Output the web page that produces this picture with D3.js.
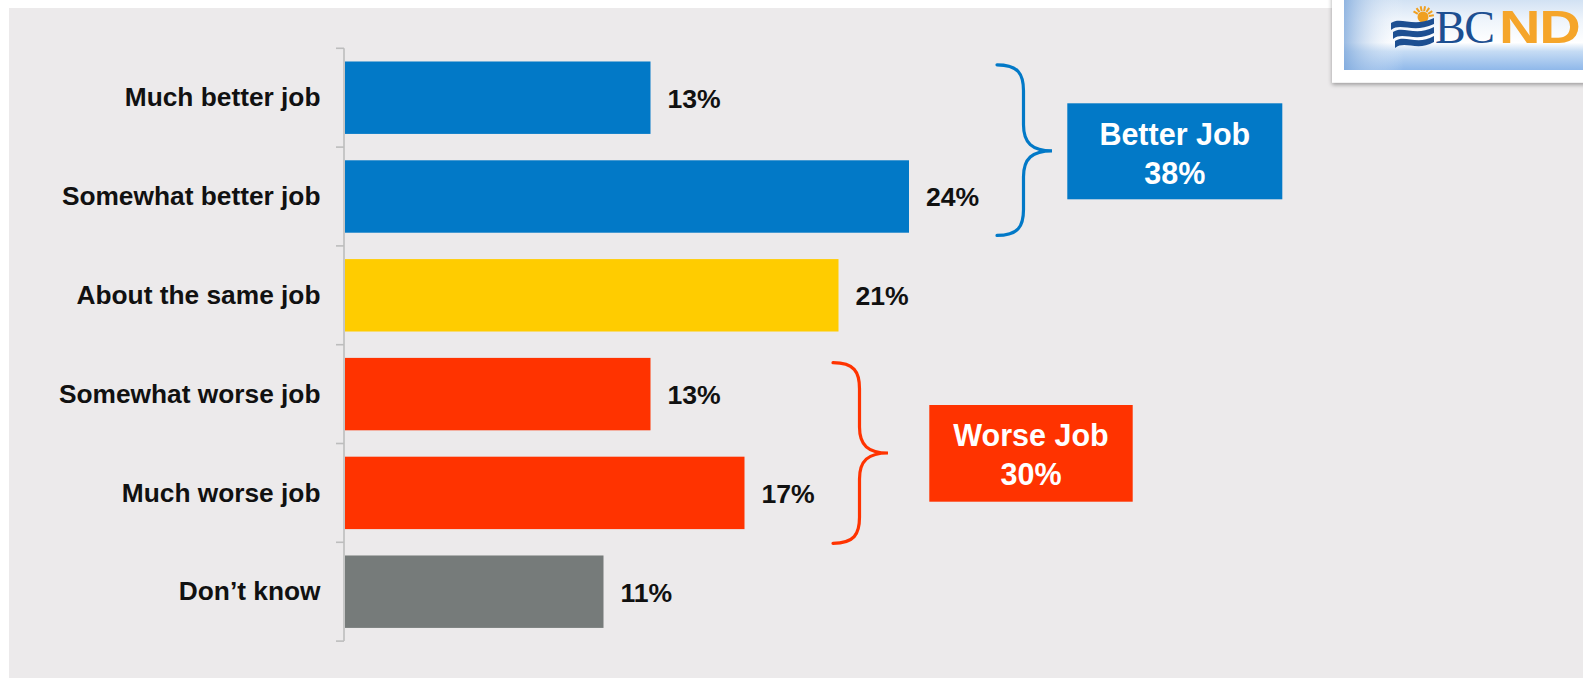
<!DOCTYPE html>
<html>
<head>
<meta charset="utf-8">
<script src="https://cdn.jsdelivr.net/npm/d3@7/dist/d3.min.js"></script>
<style>
  html, body { margin: 0; padding: 0; background: #ffffff; }
  svg { display: block; font-family: "Liberation Sans", Arial, sans-serif; }
</style>
</head>
<body>
<svg id="chart" width="1583" height="678"></svg>
<script>
// Survey responses (percent of respondents)
const categories = [
  "Much better job",
  "Somewhat better job",
  "About the same job",
  "Somewhat worse job",
  "Much worse job",
  "Don\u2019t know"
];
const values = [13, 24, 21, 13, 17, 11];
const barColors = ["#0279c7", "#0279c7", "#ffcc00", "#ff3300", "#ff3300", "#767b7a"];

// Net groupings shown beside the bars
const groupLabels = ["Better Job", "Worse Job"];
const groupValues = [38, 30];
const groupMembers = [[0, 1], [3, 4]];
const groupColors = ["#0279c7", "#ff3300"];

const W = 1583, H = 678;
const svg = d3.select("#chart");

// Slide panel
svg.append("rect").attr("x", 9).attr("y", 8).attr("width", W - 9).attr("height", H - 8)
  .attr("fill", "#eceaeb");

// Scales
const y = d3.scaleBand()
  .domain(categories)
  .range([48.3, 641.1])
  .paddingInner(0.267)
  .paddingOuter(0.1335);

const x = d3.scaleLinear().domain([0, 30]).range([345, 345 + 705]);

const step = y.step();
const bw = y.bandwidth();

// Category axis line and tick marks at band boundaries
const axisG = svg.append("g").attr("stroke", "#bdbdbd").attr("stroke-width", 1.6);
axisG.append("line").attr("x1", 344).attr("x2", 344).attr("y1", 48.3).attr("y2", 641.1);
const boundaries = categories.map(c => y(c) - (step - bw) / 2)
  .concat([y(categories[categories.length - 1]) + bw + (step - bw) / 2]);
axisG.selectAll("line.tick").data(boundaries).join("line")
  .attr("class", "tick")
  .attr("x1", 336).attr("x2", 344)
  .attr("y1", d => d).attr("y2", d => d);

// Bars
svg.append("g").selectAll("rect").data(values).join("rect")
  .attr("x", x(0))
  .attr("y", (d, i) => y(categories[i]))
  .attr("width", d => x(d) - x(0))
  .attr("height", bw)
  .attr("fill", (d, i) => barColors[i]);

// Category labels
svg.append("g").selectAll("text").data(categories).join("text")
  .attr("x", 320.5)
  .attr("y", d => y(d) + bw / 2 + 8.6)
  .attr("text-anchor", "end")
  .attr("font-size", 26.3)
  .attr("font-weight", "bold")
  .attr("fill", "#111")
  .text(d => d);

// Value labels
svg.append("g").selectAll("text").data(values).join("text")
  .attr("x", d => x(d) + 17)
  .attr("y", (d, i) => y(categories[i]) + bw / 2 + 9.8)
  .attr("font-size", 26.6)
  .attr("font-weight", "bold")
  .attr("fill", "#111")
  .text(d => d + "%");

// Curly brace path
function bracePath(x0, xm, xt, y0, y1, ym) {
  const r = 26;
  return `M${x0},${y0}` +
    `C${x0 + (xm - x0) * 0.8},${y0} ${xm},${y0 + r * 0.35} ${xm},${y0 + r}` +
    `L${xm},${ym - r}` +
    `C${xm},${ym - r * 0.3} ${xm + (xt - xm) * 0.3},${ym} ${xt},${ym}` +
    `C${xm + (xt - xm) * 0.3},${ym} ${xm},${ym + r * 0.3} ${xm},${ym + r}` +
    `L${xm},${y1 - r}` +
    `C${xm},${y1 - r * 0.35} ${x0 + (xm - x0) * 0.8},${y1} ${x0},${y1}`;
}

// Brace geometry per group (top/bottom nudges from the band edges)
const braceNudge = [[3.3, 2.7], [4.8, 14.2]];
const braceX0 = [997, 833];
const boxes = [
  { x: 1067.3, y: 103.3, w: 215, h: 96 },
  { x: 929.3, y: 405, w: 203.4, h: 96.7 }
];

groupLabels.forEach((lab, g) => {
  const m = groupMembers[g];
  const top = y(categories[m[0]]) + braceNudge[g][0];
  const bot = y(categories[m[m.length - 1]]) + bw + braceNudge[g][1];
  const x0 = braceX0[g];
  const xm = x0 + 26.5;
  const xt = xm + 28.5;
  const ym = (top + bot) / 2 + (g === 0 ? 0.7 : 0);
  svg.append("path")
    .attr("d", bracePath(x0, xm, xt, top, bot, ym))
    .attr("fill", "none")
    .attr("stroke", groupColors[g])
    .attr("stroke-width", 3.2)
    .attr("stroke-linecap", "round");

  const b = boxes[g];
  svg.append("rect").attr("x", b.x).attr("y", b.y).attr("width", b.w).attr("height", b.h)
    .attr("fill", groupColors[g]);
  const cx = b.x + b.w / 2;
  svg.append("text").attr("x", cx).attr("y", b.y + 41.3)
    .attr("text-anchor", "middle").attr("font-size", 30.5).attr("font-weight", "bold")
    .attr("fill", "#fff").text(lab);
  svg.append("text").attr("x", cx).attr("y", b.y + 80.3)
    .attr("text-anchor", "middle").attr("font-size", 30.5).attr("font-weight", "bold")
    .attr("fill", "#fff").text(groupValues[g] + "%");
});

// Party logo in the top-right corner
const defs = svg.append("defs");
const shadow = defs.append("filter").attr("id", "logoShadow")
  .attr("x", "-10%").attr("y", "-10%").attr("width", "130%").attr("height", "140%");
shadow.append("feDropShadow").attr("dx", 0).attr("dy", 2).attr("stdDeviation", 2)
  .attr("flood-color", "#000").attr("flood-opacity", 0.35);

const bgGrad = defs.append("linearGradient").attr("id", "logoBg")
  .attr("x1", 0).attr("y1", 0).attr("x2", 0).attr("y2", 1);
[["0%", "#cfe0f3"], ["30%", "#eef4fb"], ["62%", "#ffffff"], ["74%", "#c6dcf4"], ["100%", "#8fb8ea"]]
  .forEach(([o, c]) => bgGrad.append("stop").attr("offset", o).attr("stop-color", c));
const sideGrad = defs.append("linearGradient").attr("id", "logoSide")
  .attr("x1", 0).attr("y1", 0).attr("x2", 1).attr("y2", 0);
[["0%", "#7fa9dc", 0.8], ["100%", "#ffffff", 0]]
  .forEach(([o, c, a]) => sideGrad.append("stop").attr("offset", o).attr("stop-color", c).attr("stop-opacity", a));

const logo = svg.append("g");
logo.append("rect").attr("x", 1332).attr("y", -10).attr("width", 270).attr("height", 92.7)
  .attr("fill", "#ffffff").attr("filter", "url(#logoShadow)");
logo.append("rect").attr("x", 1344).attr("y", -2).attr("width", 250).attr("height", 72)
  .attr("fill", "url(#logoBg)");
logo.append("rect").attr("x", 1344).attr("y", -2).attr("width", 60).attr("height", 72)
  .attr("fill", "url(#logoSide)");

// Flag emblem: sun with rays and waving stripes
const sun = logo.append("g").attr("fill", "#f0a020");
sun.append("circle").attr("cx", 1423).attr("cy", 17).attr("r", 5.5);
d3.range(7).forEach(k => {
  const a = -Math.PI * (0.05 + k * 0.13);
  sun.append("line").attr("x1", 1423 + Math.cos(a) * 6).attr("y1", 17 + Math.sin(a) * 6)
    .attr("x2", 1423 + Math.cos(a) * 11).attr("y2", 17 + Math.sin(a) * 11)
    .attr("stroke", "#f0a020").attr("stroke-width", 2);
});
[19, 28, 37].forEach((sy, k) => {
  const x0 = 1391 + k * 2, x1 = 1434;
  logo.append("path")
    .attr("d", `M${x0},${sy + 4} C${x0 + 10},${sy - 3} ${x0 + 22},${sy + 9} ${x1},${sy - 1} L${x1},${sy + 5} C${x0 + 22},${sy + 15} ${x0 + 10},${sy + 3} ${x0},${sy + 11} Z`)
    .attr("fill", "#1d4f91");
});
logo.append("text").attr("x", 1435).attr("y", 43)
  .style("font-family", "'Liberation Serif', 'DejaVu Serif', serif")
  .attr("font-size", 46).attr("fill", "#1d4f91").attr("letter-spacing", -1.5).text("BC");
logo.append("text")
  .attr("transform", "translate(1499,43) scale(1.25,1)")
  .attr("font-size", 46).attr("font-weight", "bold").attr("fill", "#f5a52a")
  .attr("letter-spacing", -1).text("NDP");
</script>
</body>
</html>
